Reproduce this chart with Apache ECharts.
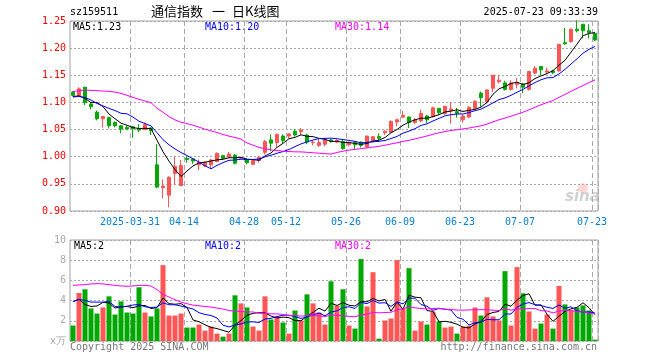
<!DOCTYPE html>
<html><head><meta charset="utf-8">
<script src="https://cdn.jsdelivr.net/npm/echarts@6/dist/echarts.min.js"></script>
<style>html,body{margin:0;padding:0;background:#fff}#c{width:660px;height:360px}</style>
</head><body><div id="c"></div>
<script>
// ---- data ----
const dates = ['03-17','03-18','03-19','03-20','03-21','03-24','03-25','03-26','03-27','03-28',
 '03-31','04-01','04-02','04-03','04-07','04-08','04-09','04-10','04-11',
 '04-14','04-15','04-16','04-17','04-18','04-21','04-22','04-23','04-24','04-25',
 '04-28','04-29','04-30','05-06','05-07','05-08','05-09',
 '05-12','05-13','05-14','05-15','05-16','05-19','05-20','05-21','05-22','05-23',
 '05-26','05-27','05-28','05-29','05-30','06-03','06-04','06-05','06-06',
 '06-09','06-10','06-11','06-12','06-13','06-16','06-17','06-18','06-19','06-20',
 '06-23','06-24','06-25','06-26','06-27','06-30','07-01','07-02','07-03','07-04',
 '07-07','07-08','07-09','07-10','07-11','07-14','07-15','07-16','07-17','07-18','07-21','07-22','07-23'];
const tickDates = ['03-31','04-14','04-28','05-12','05-26','06-09','06-23','07-07','07-23'];
const priceTicks = [0.90, 1.25, 0.05];
const volTicks = [0, 10, 2];

const open = [1.119,1.112,1.128,1.097,1.082,1.070,1.072,1.063,1.057,1.054,
 1.055,1.052,1.050,1.053,0.985,0.943,0.929,0.969,0.947,0.997,
 0.996,0.985,0.983,0.985,0.991,1.002,1.000,1.003,0.997,0.995,
 0.986,0.993,1.008,1.031,1.026,1.038,1.038,1.047,1.046,1.040,
 1.026,1.021,1.023,1.031,1.027,1.028,1.022,1.026,1.027,1.018,
 1.029,1.037,1.044,1.045,1.064,1.073,1.073,1.063,1.066,1.075,
 1.074,1.089,1.079,1.085,1.083,1.068,1.073,1.089,1.117,1.101,
 1.126,1.138,1.136,1.124,1.133,1.134,1.124,1.154,1.166,1.156,
 1.158,1.158,1.210,1.212,1.235,1.244,1.232,1.227];
const close = [1.113,1.125,1.100,1.092,1.070,1.074,1.057,1.057,1.051,1.051,
 1.052,1.049,1.059,1.048,0.944,0.946,0.962,0.982,0.984,0.995,
 0.992,0.990,0.989,0.994,1.006,0.997,1.005,0.988,0.998,0.989,
 0.993,0.999,1.028,1.025,1.041,1.030,1.042,1.040,1.049,1.027,
 1.027,1.026,1.031,1.029,1.030,1.015,1.026,1.022,1.021,1.038,
 1.037,1.034,1.047,1.065,1.068,1.076,1.063,1.068,1.080,1.068,
 1.090,1.081,1.093,1.088,1.080,1.075,1.091,1.102,1.109,1.123,
 1.150,1.141,1.124,1.136,1.136,1.128,1.157,1.163,1.160,1.158,
 1.155,1.207,1.208,1.235,1.232,1.232,1.229,1.215];
const low = [1.111,1.111,1.095,1.087,1.067,1.054,1.052,1.054,1.043,1.049,
 1.035,1.045,1.049,1.040,0.942,0.923,0.907,0.948,0.946,0.989,
 0.987,0.975,0.981,0.979,0.990,0.995,0.997,0.986,0.996,0.986,
 0.985,0.989,1.004,1.010,1.017,1.024,1.034,1.037,1.039,1.023,
 1.021,1.018,1.019,1.026,1.025,1.013,1.019,1.014,1.017,1.016,
 1.026,1.027,1.040,1.044,1.056,1.071,1.053,1.060,1.064,1.062,
 1.072,1.077,1.077,1.061,1.072,1.063,1.071,1.087,1.092,1.098,
 1.119,1.135,1.122,1.122,1.126,1.117,1.122,1.152,1.150,1.152,
 1.152,1.157,1.206,1.210,1.229,1.218,1.218,1.213];
const high = [1.121,1.128,1.129,1.099,1.085,1.075,1.073,1.065,1.058,1.057,
 1.056,1.060,1.063,1.054,1.023,0.958,0.964,1.000,0.994,1.000,
 0.998,0.995,0.991,0.996,1.008,1.003,1.009,1.005,1.000,0.997,
 0.995,1.001,1.031,1.041,1.043,1.041,1.043,1.051,1.053,1.042,
 1.030,1.034,1.035,1.033,1.032,1.032,1.028,1.029,1.028,1.039,
 1.038,1.043,1.049,1.067,1.070,1.084,1.074,1.071,1.087,1.077,
 1.092,1.090,1.094,1.100,1.090,1.078,1.093,1.104,1.120,1.124,
 1.151,1.150,1.140,1.141,1.145,1.136,1.158,1.167,1.167,1.164,
 1.160,1.208,1.237,1.236,1.251,1.244,1.244,1.230];
const volume = [1.53,4.75,5.12,3.22,2.72,3.32,4.42,2.62,3.92,2.82,
 2.72,5.32,2.82,2.43,3.22,7.51,2.52,2.52,2.72,1.33,
 1.33,1.63,1.03,1.43,0.73,0.43,0.73,4.52,3.72,3.32,
 1.43,1.03,4.42,2.13,2.43,1.83,0.73,3.02,2.03,4.62,
 3.72,2.82,1.63,5.91,3.52,5.12,1.53,1.23,8.11,3.42,
 6.81,0.23,2.03,2.23,8.01,3.22,7.21,1.03,1.93,1.63,
 2.92,1.93,1.33,1.43,0.73,1.43,1.53,3.32,2.52,4.32,
 2.43,2.03,6.91,1.53,7.31,4.72,2.92,1.23,1.73,2.62,
 1.23,5.45,3.62,3.02,3.32,3.52,3.02,0.13];
const ma5Head = [1.111,1.112,1.1075,1.0996];
const ma10Head = [1.110,1.111,1.109,1.1045,1.098,1.0935,1.089,1.085,1.080];
const ma30Head = [1.120,1.1216,1.1228,1.1222,1.1216,1.121,1.1204,1.119,1.1167,1.113,
 1.1094,1.1057,1.1026,1.0996,1.0892,1.0819,1.0739,1.0678,1.0635,1.0611,
 1.058,1.0544,1.0507,1.0477,1.0446,1.0409,1.0379,1.0354,1.0324];
const vma5Head = [3.92,4.12,3.62,3.42];
const vma10Head = [3.89,4.12,4.02,3.85,3.85,3.85,3.92,3.42,3.36];
const vma30Head = [5.51,5.55,5.58,5.65,5.68,5.65,5.58,5.51,5.45,5.42,
 5.45,5.51,5.51,5.45,5.08,4.62,4.35,4.09,3.85,3.69,
 3.55,3.49,3.42,3.36,3.26,3.16,3.02,2.96,2.92];

// ---- build ----
function movingAvg(vals, n, head) {
  return vals.map((v, i) => {
    if (i < n - 1) return head[i];
    let s = 0; for (let k = i - n + 1; k <= i; k++) s += vals[k];
    return +(s / n).toFixed(4);
  });
}
const UP = '#ff5555', DOWN = '#00a800';
const MONO = 'DejaVu Sans Mono';
const F10 = '10px "' + MONO + '"';
const CJK = '13px "Noto Sans CJK SC"';
const kData = open.map((o, i) => [o, close[i], low[i], high[i]]);
const volData = volume.map((v, i) => ({value: v, itemStyle: {color: close[i] >= open[i] ? UP : DOWN}}));
const tickSet = new Set(tickDates);
const showTick = (idx, val) => tickSet.has(val);

const xCommon = {
  type: 'category', data: dates, boundaryGap: true,
  axisLine: {show: false}, axisTick: {show: false},
  splitLine: {show: true, interval: showTick, lineStyle: {color: '#aaa', type: [5, 3], width: 1}}
};
const option = {
  animation: false,
  backgroundColor: '#fff',
  grid: [
    {left: 70, right: 62, top: 21, height: 190, show: true, borderColor: '#a0a0a0', borderWidth: 1},
    {left: 70, right: 62, top: 240, height: 101, show: true, borderColor: '#a0a0a0', borderWidth: 1}
  ],
  xAxis: [
    Object.assign({}, xCommon, {gridIndex: 0,
      axisLabel: {show: true, interval: showTick, color: '#0a7fd4', fontFamily: MONO, fontSize: 10, margin: 6,
        padding: [0, 6, 0, 0],
        formatter: v => v === tickDates[0] ? '2025-' + v : v}}),
    Object.assign({}, xCommon, {gridIndex: 1, axisLabel: {show: false}})
  ],
  yAxis: [
    {gridIndex: 0, type: 'value', min: priceTicks[0], max: priceTicks[1], interval: priceTicks[2],
      axisLine: {show: false}, axisTick: {show: false},
      axisLabel: {color: '#ff0000', fontFamily: MONO, fontSize: 10, margin: 4, formatter: v => v.toFixed(2)},
      splitLine: {lineStyle: {color: '#aaa', type: [2, 2]}}},
    {gridIndex: 1, type: 'value', min: volTicks[0], max: volTicks[1], interval: volTicks[2],
      axisLine: {show: false}, axisTick: {show: false},
      axisLabel: {color: '#aaa', fontFamily: MONO, fontSize: 10, margin: 4, formatter: v => v === 0 ? 'x万' : String(v)},
      splitLine: {lineStyle: {color: '#aaa', type: [2, 2]}}}
  ],
  series: [
    {type: 'candlestick', xAxisIndex: 0, yAxisIndex: 0, data: kData, barWidth: 4,
      itemStyle: {color: UP, color0: DOWN, borderColor: UP, borderColor0: DOWN, borderWidth: 1}},
    {type: 'line', xAxisIndex: 0, yAxisIndex: 0, data: movingAvg(close, 5, ma5Head), showSymbol: false, lineStyle: {color: '#000', width: 1}},
    {type: 'line', xAxisIndex: 0, yAxisIndex: 0, data: movingAvg(close, 10, ma10Head), showSymbol: false, lineStyle: {color: '#0000ff', width: 1}},
    {type: 'line', xAxisIndex: 0, yAxisIndex: 0, data: movingAvg(close, 30, ma30Head), showSymbol: false, lineStyle: {color: '#ff00ff', width: 1}},
    {type: 'bar', xAxisIndex: 1, yAxisIndex: 1, data: volData, barWidth: 5},
    {type: 'line', xAxisIndex: 1, yAxisIndex: 1, data: movingAvg(volume, 5, vma5Head), showSymbol: false, lineStyle: {color: '#000', width: 1}},
    {type: 'line', xAxisIndex: 1, yAxisIndex: 1, data: movingAvg(volume, 10, vma10Head), showSymbol: false, lineStyle: {color: '#0000ff', width: 1}},
    {type: 'line', xAxisIndex: 1, yAxisIndex: 1, data: movingAvg(volume, 30, vma30Head), showSymbol: false, lineStyle: {color: '#ff00ff', width: 1}}
  ],
  graphic: [
    {type: 'text', left: 70, top: 7, style: {text: 'sz159511', fill: '#000', font: F10}},
    {type: 'text', left: 151, top: 5, style: {text: '通信指数', fill: '#000', font: CJK}},
    {type: 'text', left: 212, top: 5, style: {text: '一', fill: '#000', font: CJK}},
    {type: 'text', left: 232, top: 5, style: {text: '日K线图', fill: '#000', font: CJK}},
    {type: 'text', right: 62, top: 7, style: {text: '2025-07-23 09:33:39', fill: '#000', font: F10}},
    {type: 'text', left: 73, top: 22, style: {text: 'MA5:1.23', fill: '#000', font: F10}},
    {type: 'text', left: 205, top: 22, style: {text: 'MA10:1.20', fill: '#0000ff', font: F10}},
    {type: 'text', left: 335, top: 22, style: {text: 'MA30:1.14', fill: '#ff00ff', font: F10}},
    {type: 'text', left: 74, top: 241, style: {text: 'MA5:2', fill: '#000', font: F10}},
    {type: 'text', left: 205, top: 241, style: {text: 'MA10:2', fill: '#0000ff', font: F10}},
    {type: 'text', left: 335, top: 241, style: {text: 'MA30:2', fill: '#ff00ff', font: F10}},
    {type: 'text', left: 70, top: 342, style: {text: 'Copyright 2025 SINA.COM', fill: '#777', font: F10}},
    {type: 'text', right: 63, top: 342, style: {text: 'http://finance.sina.com.cn', fill: '#777', font: F10}},
    {type: 'text', left: 565, top: 190, style: {text: 'sina', fill: 'rgba(190,190,190,0.7)', font: 'italic bold 15px "DejaVu Sans"'}},
    {type: 'circle', shape: {cx: 583, cy: 188, r: 5}, style: {fill: 'rgba(255,140,140,0.35)'}}
  ]
};
const chart = echarts.init(document.getElementById('c'), null, {renderer: 'canvas'});
chart.setOption(option);
</script></body></html>
